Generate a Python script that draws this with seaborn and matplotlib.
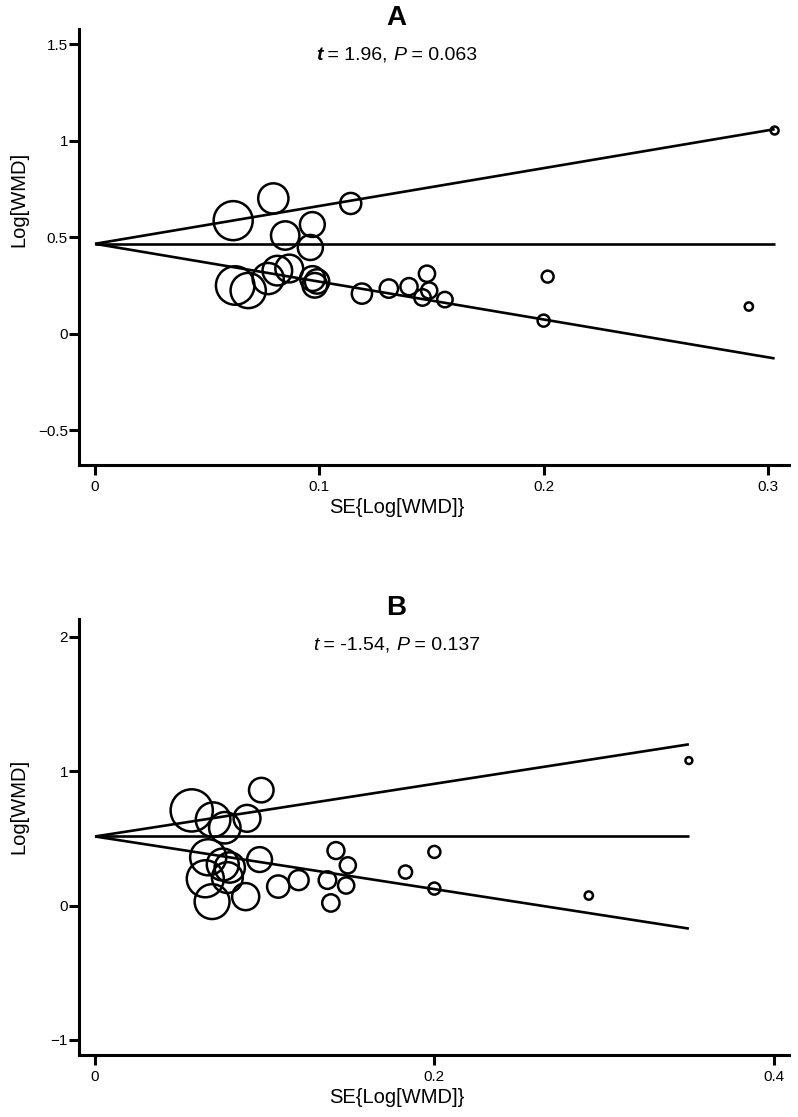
import numpy as np
import pandas as pd
import matplotlib
matplotlib.use('Agg')
import matplotlib.pyplot as plt
import matplotlib.transforms as mtransforms
from matplotlib.offsetbox import TextArea, HPacker, AnnotationBbox
import seaborn as sns

# Panel A: SE of log WMD vs log WMD, one circle per study
se_a = [0.0616, 0.0795, 0.114, 0.0969, 0.0848, 0.096,
        0.0625, 0.0683, 0.0772, 0.0813, 0.0866, 0.097, 0.098, 0.099,
        0.119, 0.131, 0.140, 0.148, 0.146, 0.149, 0.156,
        0.200, 0.2018, 0.2915, 0.303]
lwmd_a = [0.585, 0.700, 0.674, 0.565, 0.508, 0.446,
          0.249, 0.223, 0.285, 0.326, 0.337, 0.285, 0.250, 0.270,
          0.207, 0.233, 0.243, 0.310, 0.187, 0.223, 0.176,
          0.067, 0.295, 0.140, 1.052]
pooled_a = 0.465
t_a, p_a = '1.96', '0.063'

# Panel B
se_b = [0.057, 0.0696, 0.0765, 0.0896, 0.098,
        0.0667, 0.065, 0.069, 0.0753, 0.0794, 0.078, 0.0888, 0.097,
        0.108, 0.120, 0.137, 0.142, 0.149, 0.148, 0.139,
        0.183, 0.200, 0.200, 0.291, 0.350]
lwmd_b = [0.709, 0.640, 0.580, 0.650, 0.860,
          0.360, 0.200, 0.030, 0.306, 0.284, 0.209, 0.067, 0.343,
          0.142, 0.190, 0.190, 0.410, 0.300, 0.150, 0.020,
          0.250, 0.400, 0.127, 0.075, 1.080]
pooled_b = 0.515
t_b, p_b = '-1.54', '0.137'

xticks_a = [0, 0.1, 0.2, 0.3]
xticklabels_a = ['0', '0.1', '0.2', '0.3']
yticks_a = [-0.5, 0, 0.5, 1, 1.5]
yticklabels_a = ['\u22120.5', '0', '0.5', '1', '1.5']
xticks_b = [0, 0.2, 0.4]
xticklabels_b = ['0', '0.2', '0.4']
yticks_b = [-1, 0, 1, 2]
yticklabels_b = ['\u22121', '0', '1', '2']

sns.set_style('ticks')
plt.rcParams['font.family'] = ['Liberation Sans', 'DejaVu Sans']
plt.rcParams['text.color'] = 'black'
plt.rcParams['axes.labelcolor'] = 'black'

fig = plt.figure(figsize=(7.98, 11.17), dpi=100)
ax_a = fig.add_axes([79 / 798, 1 - 465 / 1117, 710 / 798, 436 / 1117])
ax_b = fig.add_axes([79 / 798, 1 - 1055 / 1117, 710 / 798, 436 / 1117])


def draw_panel(ax, se, lwmd, pooled, xlim, ylim, xticks, xticklabels,
               yticks, yticklabels, letter, t_val, p_val, t_bold, ylab_y):
    df = pd.DataFrame({'se': se, 'lwmd': lwmd})
    df['weight'] = 1 / df['se'] ** 2
    wmin, wmax = df['weight'].min(), df['weight'].max()
    # marker area proportional to weight (1/SE^2)
    sns.scatterplot(data=df, x='se', y='lwmd', size='weight',
                    sizes=(3.0 * wmin, 3.0 * wmax), facecolors='none',
                    edgecolor='black', linewidth=1.8, legend=False,
                    ax=ax, clip_on=False, zorder=3)

    # pooled estimate and 95% limits, out to the largest SE
    se_max = df['se'].max()
    xl = np.array([0, se_max])
    ax.plot(xl, [pooled, pooled], color='black', lw=1.9, solid_capstyle='butt')
    ax.plot(xl, pooled + 1.96 * xl, color='black', lw=1.9, solid_capstyle='butt')
    ax.plot(xl, pooled - 1.96 * xl, color='black', lw=1.9, solid_capstyle='butt')

    ax.set_xlim(*xlim)
    ax.set_ylim(*ylim)
    ax.set_xticks(xticks)
    ax.set_xticklabels(xticklabels)
    ax.set_yticks(yticks)
    ax.set_yticklabels(yticklabels)
    ax.set_xlabel('')
    ax.set_ylabel('')
    sns.despine(ax=ax)
    for s in ['left', 'bottom']:
        ax.spines[s].set_linewidth(2.2)
        ax.spines[s].set_color('black')
    ax.tick_params(axis='both', direction='out', length=7, width=2.2,
                   color='black', labelsize=11, labelcolor='black')
    ax.tick_params(axis='y', pad=1)
    ax.tick_params(axis='x', pad=4)

    trans = mtransforms.blended_transform_factory(fig.transFigure, ax.transAxes)
    ax.text(0.497, 1.026, letter, transform=trans, ha='center', va='center',
            fontsize=20, fontweight='bold', color='black')

    parts = [
        TextArea('t', textprops=dict(fontsize=14, fontstyle='italic', color='black',
                                     fontweight='bold' if t_bold else 'normal')),
        TextArea(' = ' + t_val + ', ', textprops=dict(fontsize=14, color='black')),
        TextArea('P', textprops=dict(fontsize=14, fontstyle='italic', color='black')),
        TextArea(' = ' + p_val, textprops=dict(fontsize=14, color='black')),
    ]
    box = HPacker(children=parts, align='baseline', pad=0, sep=0)
    ab = AnnotationBbox(box, (0.497, 0.94), xycoords=trans, frameon=False,
                        box_alignment=(0.5, 0.5), pad=0)
    ax.add_artist(ab)

    ax.text(-0.0852, ylab_y, 'Log[WMD]', transform=ax.transAxes, rotation=90,
            ha='center', va='center', fontsize=14.5, color='black')
    ax.text(0.497, -0.097, 'SE{Log[WMD]}', transform=trans, ha='center',
            va='center', fontsize=14.5, color='black')


draw_panel(ax_a, se_a, lwmd_a, pooled_a, (-0.00713, 0.3094), (-0.681, 1.578),
           xticks_a, xticklabels_a, yticks_a, yticklabels_a, 'A', t_a, p_a,
           True, 0.61)
draw_panel(ax_b, se_b, lwmd_b, pooled_b, (-0.00943, 0.409), (-1.112, 2.134),
           xticks_b, xticklabels_b, yticks_b, yticklabels_b, 'B', t_b, p_b,
           False, 0.569)

fig.savefig('out.png', dpi=100, facecolor='white')
